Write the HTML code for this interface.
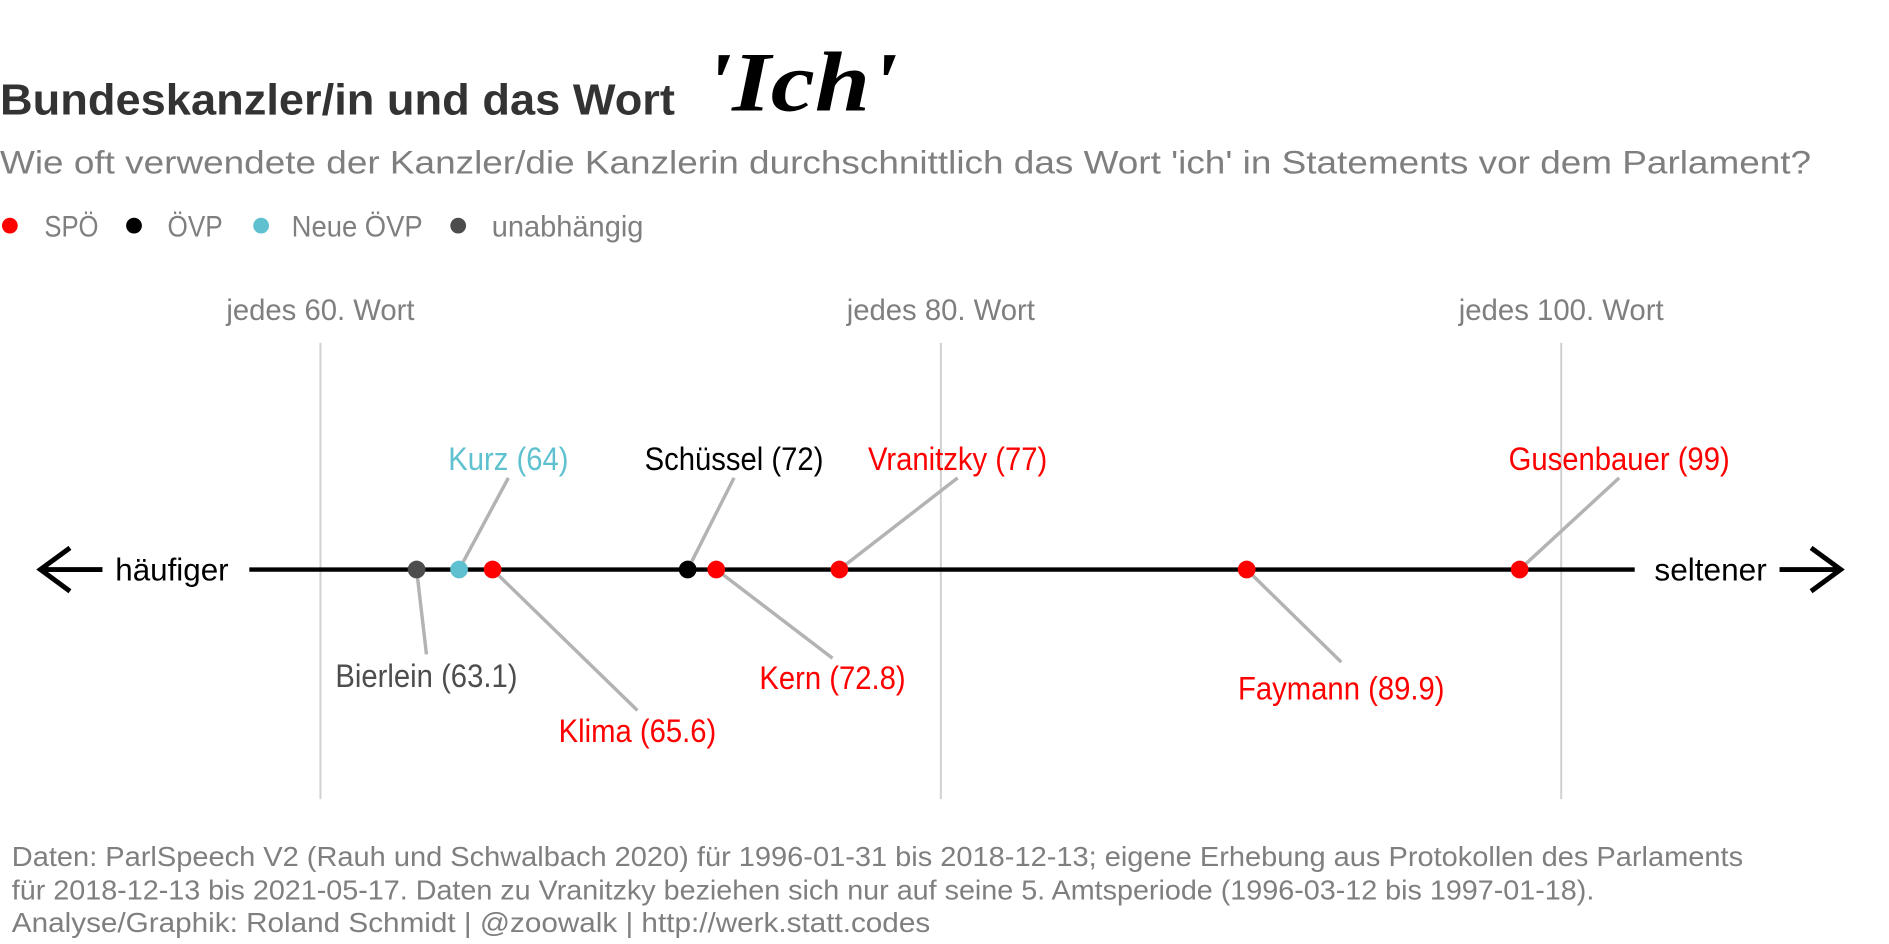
<!DOCTYPE html>
<html><head><meta charset="utf-8">
<style>
html,body{margin:0;padding:0;background:#fff;}
svg{display:block;font-family:"Liberation Sans",sans-serif;}
</style></head>
<body>
<svg id="chart" width="1889" height="944" viewBox="0 0 1889 944">
<g transform="scale(0.98536)">
  <text class="fit" data-w="685" x="0" y="116" font-size="44" font-weight="bold" fill="#333">Bundeskanzler/in und das Wort</text>
  <text class="fit" data-w="196" x="715" y="112" font-size="86" font-style="italic" font-weight="bold" font-family="Liberation Serif, serif" fill="#000">'Ich'</text>
  <text class="fit" data-w="1838" x="0" y="176" font-size="33" fill="#7f7f7f">Wie oft verwendete der Kanzler/die Kanzlerin durchschnittlich das Wort 'ich' in Statements vor dem Parlament?</text>
  <g font-size="30" fill="#7f7f7f">
    <circle cx="10" cy="229" r="8" fill="#FF0000"/>
    <text class="fit" data-w="55" x="45" y="240">SPÖ</text>
    <circle cx="136" cy="229" r="8" fill="#000"/>
    <text class="fit" data-w="56" x="170" y="240">ÖVP</text>
    <circle cx="265" cy="229" r="8" fill="#5FC1CF"/>
    <text class="fit" data-w="133" x="296" y="240">Neue ÖVP</text>
    <circle cx="465" cy="229" r="8" fill="#4D4D4D"/>
    <text class="fit" data-w="154" x="499" y="240">unabhängig</text>
  </g>
  <g id="grid"></g>
  <g id="axis">
    <line x1="253" y1="578" x2="1659" y2="578" stroke="#000" stroke-width="4.5"/>
    <path d="M71 556 L41 578 L71 600 M41 578 L104 578" stroke="#000" stroke-width="5" fill="none"/>
    <path d="M1838 556 L1868 578 L1838 600 M1868 578 L1806 578" stroke="#000" stroke-width="5" fill="none"/>
    <text class="fit" data-w="115" x="117" y="589" font-size="32" fill="#000">häufiger</text>
    <text class="fit" data-w="114" x="1679" y="589" font-size="32" fill="#000">seltener</text>
  </g>
  <g id="marks"></g>
  <g font-size="28" fill="#7f7f7f">
    <text class="fit" data-w="1757" x="12" y="879">Daten: ParlSpeech V2 (Rauh und Schwalbach 2020) für 1996-01-31 bis 2018-12-13; eigene Erhebung aus Protokollen des Parlaments</text>
    <text class="fit" data-w="1606" x="12" y="913">für 2018-12-13 bis 2021-05-17. Daten zu Vranitzky beziehen sich nur auf seine 5. Amtsperiode (1996-03-12 bis 1997-01-18).</text>
    <text class="fit" data-w="932" x="12" y="946">Analyse/Graphik: Roland Schmidt | @zoowalk | http://werk.statt.codes</text>
  </g>
</g>
</svg>
<script>
const names = ["Bierlein","Kurz","Klima","Schüssel","Kern","Vranitzky","Faymann","Gusenbauer"];
const values = [63.1,64.47,65.55,71.84,72.76,76.73,89.86,98.66];
const printed = ["63.1","64","65.6","72","72.8","77","89.9","99"];
const parties = ["unabhängig","Neue ÖVP","SPÖ","ÖVP","SPÖ","SPÖ","SPÖ","SPÖ"];
const tickValues = [60,80,100];
const tickLabels = ["jedes 60. Wort","jedes 80. Wort","jedes 100. Wort"];

const partyColor = {"SPÖ":"#FF0000","ÖVP":"#000000","Neue ÖVP":"#5FC1CF","unabhängig":"#4D4D4D"};
const NS = "http://www.w3.org/2000/svg";
const x = v => 325.2 + (v - 60) * 31.48;
const axisY = 578;
const labelLayout = [[10,685,664],[50,465,485],[147,741,721],[47,465,485],[118,687,668],[120,465,485],[96,698,672],[101,465,485]];

function el(tag, attrs, parent){const e=document.createElementNS(NS,tag);for(const k in attrs)e.setAttribute(k,attrs[k]);parent.appendChild(e);return e;}

const grid = document.getElementById('grid');
tickValues.forEach((t,i)=>{
  const l = el('line',{x1:x(t),x2:x(t),y1:348,y2:811,stroke:'#d0d0d0','stroke-width':2},grid);
  
  
  const tx = el('text',{x:x(t),y:325,'text-anchor':'middle','font-size':30,fill:'#7f7f7f'},grid);
  
  
  tx.setAttribute('class','fit');
  tx.setAttribute('data-w', t===100 ? '208' : '191');
  tx.textContent = tickLabels[i];
});

const marks = document.getElementById('marks');
const lineG = el('g',{},marks);
const dotG = el('g',{},marks);
const labG = el('g',{},marks);
names.forEach((n,i)=>{
  const px = x(values[i]);
  const lay = labelLayout[i];
  const lx = px + lay[0];
  const ln = el('line',{x1:px,y1:axisY,x2:lx,y2:lay[2],stroke:'#b3b3b3','stroke-width':3.5},lineG);
  
  
  const c = el('circle',{cx:px,cy:axisY,r:9,fill:partyColor[parties[i]]},dotG);
  
  
  const t = el('text',{x:lx,y:lay[1]+12,'text-anchor':'middle','font-size':33,fill:partyColor[parties[i]]},labG);
  
  
  t.setAttribute('class','fit-ratio');
  t.textContent = n + ' (' + printed[i] + ')';
});

document.querySelectorAll('text.fit').forEach(t=>{
  t.setAttribute('textLength', t.getAttribute('data-w'));
  t.setAttribute('lengthAdjust','spacingAndGlyphs');
});
document.querySelectorAll('text.fit-ratio').forEach(t=>{
  const w = t.getComputedTextLength();
  t.setAttribute('textLength', (w*0.9).toFixed(1));
  t.setAttribute('lengthAdjust','spacingAndGlyphs');
});
</script>
</body></html>
